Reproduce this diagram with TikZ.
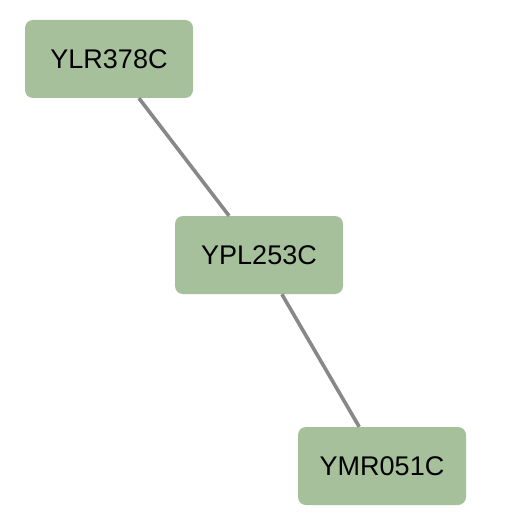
\documentclass[tikz,border=0pt]{standalone}
\usepackage{fontspec}
\setmainfont{Liberation Sans}
\usepackage{tikz}
\usetikzlibrary{shapes,arrows}

\definecolor{genegreen}{RGB}{166,192,155}
\definecolor{edgegray}{RGB}{136,136,136}

\tikzset{gene/.style={draw=none,fill=genegreen,rounded corners=8pt,minimum width=168pt,minimum height=78pt,inner sep=0pt,font=\fontsize{27}{30}\selectfont},
link/.style={draw=edgegray,line width=3.6pt}}

\begin{document}
\begin{tikzpicture}[x=1pt,y=-1pt]
\useasboundingbox (0,0) rectangle (512,513);
\node[gene] (ylr) at (109,59) {YLR378C};
\node[gene] (ypl) at (259,255) {YPL253C};
\node[gene] (ymr) at (382,466) {YMR051C};
\draw[link] (ylr) -- (ypl);
\draw[link] (ypl) -- (ymr);
\end{tikzpicture}
\end{document}
